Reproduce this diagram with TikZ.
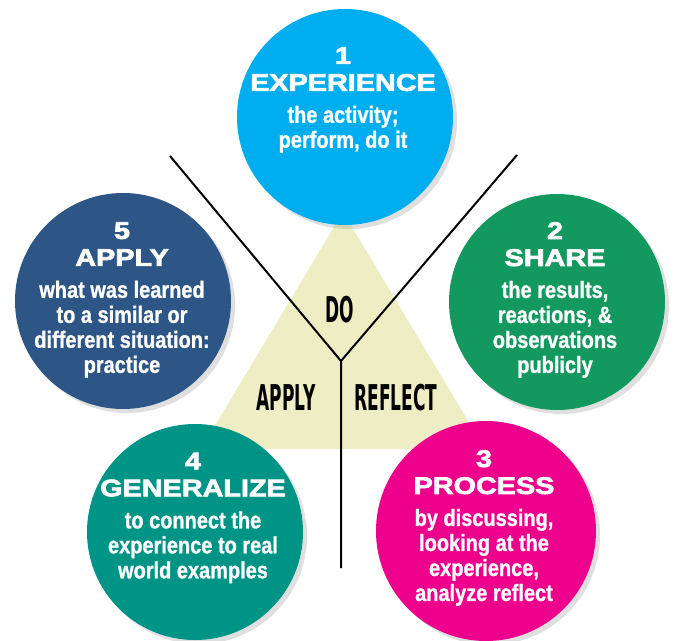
\documentclass[tikz,border=0pt]{standalone}
\usepackage{fontspec}
\usetikzlibrary{positioning, shadows}
\newfontfamily\bodyfont{Liberation Sans}[FakeStretch=0.85, BoldFeatures={FakeBold=1}]
\newfontfamily\headfont{Liberation Sans}[FakeStretch=1.2, BoldFeatures={FakeBold=3}]
\newfontfamily\tagfont{DejaVu Sans}[FakeStretch=0.48]
\definecolor{experience}{HTML}{00ADEE}
\definecolor{share}{HTML}{13995F}
\definecolor{process}{HTML}{EC008C}
\definecolor{generalize}{HTML}{009487}
\definecolor{apply}{HTML}{2D5585}
\definecolor{pale}{HTML}{EEEDC4}
\newcommand{\hd}[1]{{\headfont\bfseries\fontsize{24bp}{27bp}\selectfont #1}}
\tikzset{
        stage/.style={circle, minimum size=216bp, inner sep=0pt,
          drop shadow={shadow xshift=4bp, shadow yshift=-4bp, opacity=0.25}}, % the five discs
        blurb/.style={text=white, align=center, inner sep=0pt,
          font=\bodyfont\bfseries\fontsize{23.5bp}{25bp}\selectfont},
        phase/.style={inner sep=0pt, font=\tagfont\bfseries\fontsize{35.5bp}{36bp}\selectfont},
        spoke/.style={line width=2bp, black}
        }
\begin{document}
\begin{tikzpicture}[x=1bp, y=-1bp]
        \useasboundingbox (0,0) rectangle (676,641);
        % triangle in the middle
        \fill[pale] (343,212) -- (485,449) -- (201,449) -- cycle;
        \coordinate (yl) at (170,156);
        \coordinate (yr) at (517,155);
        \coordinate (yj) at (341,361);
        \coordinate (yb) at (341,568);
        \draw[spoke] (yl) -- (yj) -- (yr) (yj) -- (yb);
        \node[phase] (do) at (340,310) {DO};
        \node[phase] (ap) at (286,398) {APPLY};
        \node[phase] (re) at (396,398) {REFLECT};
        % the discs
        \node[stage, fill=experience] (c1) at (345,117) {};
        \node[stage, fill=share] (c2) at (557,302) {};
        \node[stage, fill=process, minimum size=220bp] (c3) at (486,531) {};
        \node[stage, fill=generalize] (c4) at (195,532) {};
        \node[stage, fill=apply] (c5) at (123,301) {};
        \node[blurb] (t1) at (343,100) {\hd{1}\\[2bp]\hd{EXPERIENCE}\\[7bp]the activity;\\perform, do it};
        \node[blurb] (t2) at (555,300) {\hd{2}\\[2bp]\hd{SHARE}\\[7bp]the results,\\reactions, \&\\observations\\publicly};
        \node[blurb] (t3) at (484,528) {\hd{3}\\[2bp]\hd{PROCESS}\\[7bp]by discussing,\\looking at the\\experience,\\analyze reflect};
        \node[blurb] (t4) at (193,518) {\hd{4}\\[2bp]\hd{GENERALIZE}\\[7bp]to connect the\\experience to real\\world examples};
        \node[blurb] (t5) at (122,300) {\hd{5}\\[2bp]\hd{APPLY}\\[7bp]what was learned\\to a similar or\\different situation:\\practice};
      \end{tikzpicture}
\end{document}
